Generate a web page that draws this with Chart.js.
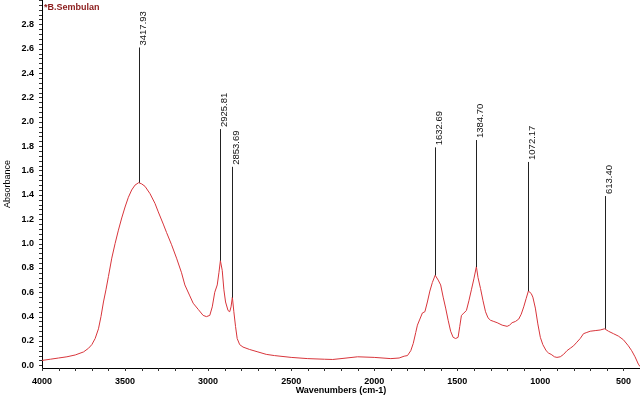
<!DOCTYPE html>
<html>
<head>
<meta charset="utf-8">
<script src="https://cdn.jsdelivr.net/npm/chart.js@4.4.1/dist/chart.umd.min.js"></script>
<style>
  html, body { margin: 0; padding: 0; background: #fff; }
  #wrap { width: 640px; height: 397px; }
</style>
</head>
<body>
<div id="wrap"><canvas id="ir" width="640" height="397"></canvas></div>
<script>
// spectrum (cm-1 / absorbance)
const wavenumbers = [4000, 3950, 3900, 3850, 3800, 3750, 3720, 3700, 3680, 3660, 3645, 3630, 3615, 3600, 3580, 3560, 3540, 3520, 3500, 3480, 3460, 3440, 3418, 3400, 3380, 3350, 3320, 3300, 3270, 3250, 3220, 3190, 3160, 3140, 3110, 3090, 3060, 3030, 3010, 2990, 2975, 2960, 2945, 2935, 2926, 2915, 2905, 2895, 2880, 2870, 2862, 2854, 2845, 2835, 2825, 2810, 2790, 2750, 2700, 2650, 2600, 2500, 2400, 2300, 2250, 2200, 2100, 2000, 1900, 1850, 1820, 1800, 1780, 1765, 1750, 1740, 1725, 1710, 1695, 1680, 1665, 1650, 1633, 1615, 1600, 1585, 1570, 1555, 1540, 1525, 1510, 1495, 1485, 1475, 1460, 1445, 1430, 1415, 1400, 1385, 1375, 1360, 1345, 1330, 1315, 1300, 1280, 1260, 1230, 1200, 1185, 1170, 1150, 1130, 1115, 1100, 1085, 1072, 1055, 1045, 1030, 1015, 1000, 985, 965, 950, 935, 915, 900, 880, 860, 840, 820, 800, 780, 760, 740, 720, 700, 670, 640, 613, 590, 560, 530, 500, 470, 450, 430, 410, 400];
const absorbance = [0.04, 0.05, 0.06, 0.07, 0.085, 0.11, 0.14, 0.17, 0.22, 0.30, 0.40, 0.52, 0.62, 0.73, 0.88, 1.00, 1.11, 1.21, 1.30, 1.38, 1.44, 1.48, 1.50, 1.49, 1.47, 1.41, 1.33, 1.26, 1.16, 1.09, 0.99, 0.88, 0.76, 0.66, 0.57, 0.51, 0.46, 0.41, 0.40, 0.41, 0.48, 0.60, 0.66, 0.76, 0.86, 0.78, 0.62, 0.52, 0.45, 0.44, 0.48, 0.56, 0.44, 0.32, 0.22, 0.17, 0.15, 0.13, 0.11, 0.09, 0.08, 0.065, 0.055, 0.05, 0.048, 0.055, 0.07, 0.065, 0.055, 0.06, 0.075, 0.08, 0.12, 0.18, 0.27, 0.33, 0.38, 0.43, 0.44, 0.52, 0.61, 0.68, 0.74, 0.70, 0.66, 0.56, 0.47, 0.37, 0.28, 0.23, 0.22, 0.23, 0.32, 0.41, 0.43, 0.45, 0.53, 0.62, 0.71, 0.81, 0.72, 0.63, 0.53, 0.44, 0.39, 0.37, 0.36, 0.35, 0.33, 0.32, 0.33, 0.35, 0.36, 0.38, 0.42, 0.48, 0.55, 0.61, 0.59, 0.56, 0.47, 0.34, 0.23, 0.17, 0.12, 0.10, 0.09, 0.07, 0.065, 0.07, 0.09, 0.12, 0.14, 0.16, 0.19, 0.22, 0.26, 0.27, 0.28, 0.285, 0.29, 0.30, 0.28, 0.26, 0.24, 0.21, 0.16, 0.12, 0.07, 0.01, -0.01];

// peak picks and how high their marker lines reach
const peakWn = [3417.93, 2925.81, 2853.69, 1632.69, 1384.70, 1072.17, 613.40];
const peakLabels = ["3417.93", "2925.81", "2853.69", "1632.69", "1384.70", "1072.17", "613.40"];
const peakTops = [2.61, 1.94, 1.63, 1.79, 1.85, 1.67, 1.39];

const sampleName = "*B.Sembulan";

const FONT = "'Liberation Sans', Arial, sans-serif";

function curveAt(w) {
  for (let i = 0; i < wavenumbers.length - 1; i++) {
    const a = wavenumbers[i], b = wavenumbers[i + 1];
    if (w <= a && w >= b) {
      const t = (a - w) / (a - b);
      return absorbance[i] + t * (absorbance[i + 1] - absorbance[i]);
    }
  }
  return 0;
}

function noPad(s) {
  s.paddingTop = 0;
  s.paddingBottom = 0;
  s.paddingLeft = 0;
  s.paddingRight = 0;
}

// small outward tick marks, one per scale tick
const tickMarks = {
  id: "tickMarks",
  afterDraw(chart) {
    const { ctx, scales: { x, y }, chartArea } = chart;
    ctx.save();
    ctx.strokeStyle = "#333";
    ctx.lineWidth = 1;
    ctx.beginPath();
    x.ticks.forEach(t => {
      const px = Math.round(x.getPixelForValue(t.value)) + 0.5;
      ctx.moveTo(px, chartArea.bottom);
      ctx.lineTo(px, chartArea.bottom + 3);
    });
    y.ticks.forEach(t => {
      const py = Math.round(y.getPixelForValue(t.value)) + 0.5;
      ctx.moveTo(chartArea.left, py);
      ctx.lineTo(chartArea.left - 3, py);
    });
    ctx.stroke();
    ctx.restore();
  }
};

const peakPlugin = {
  id: "peaks",
  afterDatasetsDraw(chart) {
    const { ctx, scales: { x, y }, chartArea } = chart;
    ctx.save();
    ctx.strokeStyle = "#222";
    ctx.lineWidth = 1;
    ctx.fillStyle = "#111";
    ctx.font = "9.5px " + FONT;
    peakWn.forEach((w, i) => {
      const px = Math.round(x.getPixelForValue(w)) + 0.5;
      const y0 = y.getPixelForValue(curveAt(w));
      const y1 = y.getPixelForValue(peakTops[i]);
      ctx.beginPath();
      ctx.moveTo(px, y0);
      ctx.lineTo(px, y1);
      ctx.stroke();
      ctx.save();
      ctx.translate(px - 0.5, y1 - 2);
      ctx.rotate(-Math.PI / 2);
      ctx.textAlign = "left";
      ctx.textBaseline = "top";
      ctx.fillText(peakLabels[i], 0, 0);
      ctx.restore();
    });
    ctx.fillStyle = "#8b1a1a";
    ctx.font = "bold 9px " + FONT;
    ctx.textBaseline = "middle";
    ctx.fillText(sampleName, chartArea.left + 2, 8);
    ctx.restore();
  }
};

const tickFont = { family: FONT, size: 9, weight: "bold" };

new Chart(document.getElementById("ir"), {
  type: "line",
  data: {
    datasets: [{
      data: wavenumbers.map((w, i) => ({ x: w, y: absorbance[i] })),
      borderColor: "#d8353b",
      borderWidth: 1,
      pointRadius: 0,
      tension: 0
    }]
  },
  options: {
    responsive: false,
    animation: false,
    devicePixelRatio: 1,
    layout: { padding: 0 },
    plugins: { legend: { display: false }, tooltip: { enabled: false } },
    scales: {
      x: {
        type: "linear",
        reverse: true,
        min: 400,
        max: 4000,
        border: { display: true, color: "#000", width: 1 },
        grid: { display: false, tickLength: 3 },
        ticks: {
          stepSize: 100,
          includeBounds: false,
          autoSkip: false,
          maxRotation: 0,
          padding: 5,
          color: "#000",
          font: tickFont,
          callback: v => (v % 500 === 0 ? String(v) : "")
        },
        title: {
          display: true,
          text: "Wavenumbers (cm-1)",
          color: "#000",
          font: { family: FONT, size: 9, weight: "bold" },
          padding: { top: 0, bottom: 1 }
        },
        afterFit: s => { s.height = 29; noPad(s); }
      },
      y: {
        min: -0.022,
        max: 3.0,
        border: { display: true, color: "#000", width: 1 },
        grid: { display: false, tickLength: 3 },
        ticks: {
          stepSize: 0.04,
          includeBounds: false,
          autoSkip: false,
          padding: 5,
          color: "#000",
          font: tickFont,
          callback: v => {
            const k = Math.round(v * 100);
            return (k % 20 === 0 && k <= 280) ? (k / 100).toFixed(1) : "";
          }
        },
        title: {
          display: true,
          text: "Absorbance",
          color: "#000",
          font: { family: FONT, size: 9 },
          padding: { top: 2, bottom: 0 }
        },
        afterFit: s => { s.width = 42; noPad(s); }
      }
    }
  },
  plugins: [tickMarks, peakPlugin]
});
</script>
</body>
</html>
